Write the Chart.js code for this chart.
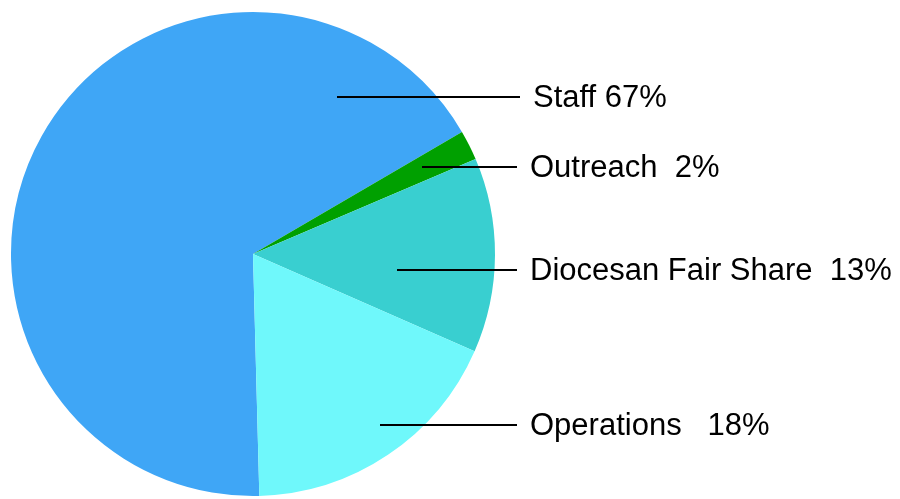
<!DOCTYPE html>
<html>
<head>
<meta charset="utf-8">
<script src="https://cdn.jsdelivr.net/npm/chart.js@4"></script>
<style>
html, body { margin:0; padding:0; background:#fff; overflow:hidden; }
#wrap { position:relative; width:900px; height:499px; }
</style>
</head>
<body>
<div id="wrap"><canvas id="c" width="900" height="499"></canvas></div>
<script>
const categories = ['Staff', 'Outreach', 'Diocesan Fair Share', 'Operations'];
const values = [67, 2, 13, 18];
const gaps = [' ', '  ', '  ', '   '];
const colors = ['#3fa6f6', '#00a000', '#39cfd0', '#6ff8fb'];

// leader lines: [x start, x end, y], label x
const leaders = [[337, 520, 97, 533], [422, 517, 167, 530], [397, 517, 270, 530], [380, 517, 425, 530]];

const labelPlugin = {
	id: 'leaders',
	afterDraw: chart => {
		const ctx = chart.ctx;
		ctx.save();
		ctx.strokeStyle = '#000';
		ctx.lineWidth = 2;
		ctx.fillStyle = '#000';
		ctx.font = '31px "Liberation Sans", Arial, sans-serif';
		ctx.textBaseline = 'middle';
		categories.forEach((c, i) => {
			const l = leaders[i];
			ctx.beginPath();
			ctx.moveTo(l[0], l[2]);
			ctx.lineTo(l[1], l[2]);
			ctx.stroke();
			ctx.fillText(c + gaps[i] + values[i] + '%', l[3], l[2] + 1);
		});
		ctx.restore();
	}
};

const cv = document.getElementById('c');
new Chart(cv, {
	type: 'pie',
	data: {
		labels: categories,
		datasets: [{
			data: values,
			backgroundColor: colors,
			borderWidth: 0,
			clip: false,
		}]
	},
	options: {
		responsive: false,
		animation: false,
		rotation: 178.5,
		radius: 242,
		layout: { padding: { left: 11, right: 900 - 495, top: 12, bottom: 3 } },
		plugins: {
			legend: { display: false },
			tooltip: { enabled: false },
		}
	},
	plugins: [labelPlugin]
});
</script>
</body>
</html>
